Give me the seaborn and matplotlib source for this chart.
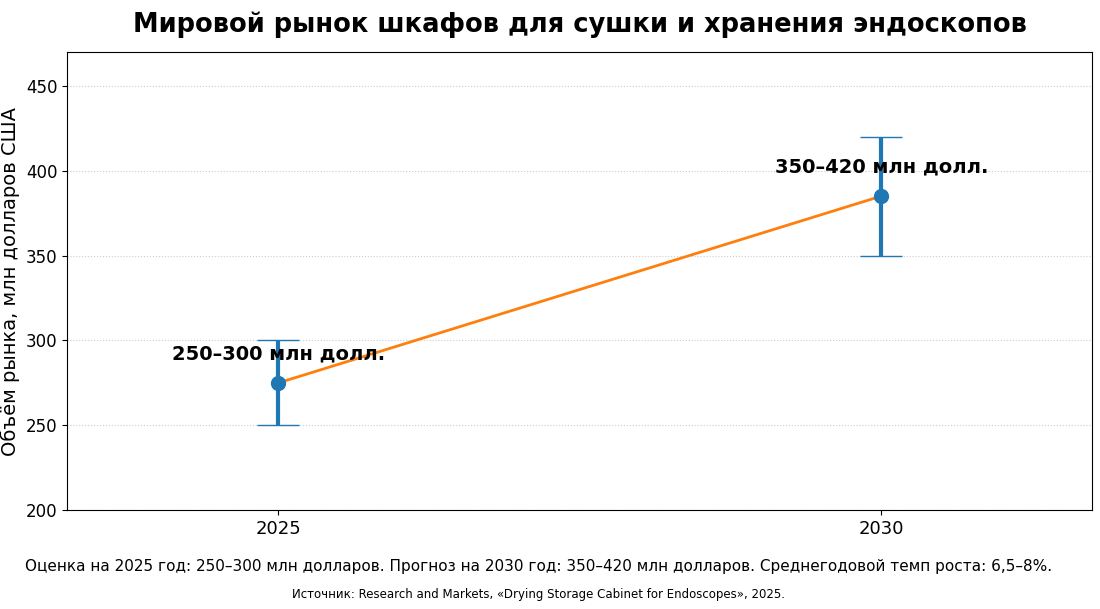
# endoscope_cabinet_market.py

import numpy as np
import matplotlib.pyplot as plt
import seaborn as sns

years = ['2025', '2030']
low_values = [250, 350]
high_values = [300, 420]
mid_values = [275, 385]
range_labels = ['250–300 млн долл.', '350–420 млн долл.']


def plot_market(save_path='out.png'):
    """
    Market size estimate with uncertainty ranges
    """
    x = np.arange(len(years))
    mid = np.array(mid_values)
    err = [mid - np.array(low_values), np.array(high_values) - mid]

    plt.figure(figsize=(11, 6.09), dpi=100)
    sns.lineplot(x=x, y=mid, color='#ff7f0e', linewidth=2)
    plt.errorbar(x, mid, yerr=err, fmt='o', color='#1f77b4', ecolor='#1f77b4',
                 elinewidth=3, capsize=15, capthick=1, markersize=10, zorder=3)
    for xi, yi, label in zip(x, mid_values, range_labels):
        plt.text(xi, yi + 17, label, ha='center', va='center',
                 fontsize=14, fontweight='bold', zorder=4)
    plt.xticks(x, years, fontsize=13)
    plt.yticks(fontsize=12)
    plt.xlim(-0.35, 1.35)
    plt.ylim(200, 470)
    plt.grid(axis='y', linestyle=':', color='#cccccc', linewidth=0.8)
    plt.title('Мировой рынок шкафов для сушки и хранения эндоскопов',
              fontsize=18.5, fontweight='bold', pad=14)
    plt.ylabel('Объём рынка, млн долларов США', fontsize=14)
    plt.figtext(0.49, 0.062, 'Оценка на 2025 год: 250–300 млн долларов. Прогноз на 2030 год: '
                '350–420 млн долларов. Среднегодовой темп роста: 6,5–8%.',
                ha='center', fontsize=11)
    plt.figtext(0.49, 0.018, 'Источник: Research and Markets, «Drying Storage Cabinet for Endoscopes», 2025.',
                ha='center', fontsize=8.5)
    plt.subplots_adjust(left=0.061, right=0.993, top=0.915, bottom=0.162)
    plt.savefig(save_path)
    plt.close()


def main():
    plot_market()


if __name__ == "__main__":
    main()
